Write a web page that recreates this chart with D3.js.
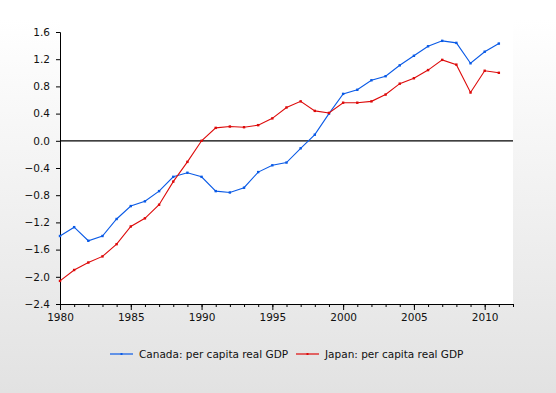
<!DOCTYPE html>
<html lang="en">
<head>
<meta charset="UTF-8"/>
<title>Canada vs Japan per capita real GDP</title>
<script src="https://d3js.org/d3.v7.min.js"></script>
<style>
  body { margin: 0; }
  svg { display: block; }
</style>
</head>
<body>
<script>
// data
var years = d3.range(1980, 2012);
var canada = [-1.40, -1.27, -1.47, -1.40, -1.15, -0.96, -0.89, -0.74, -0.53, -0.47,
              -0.53, -0.74, -0.76, -0.69, -0.46, -0.36, -0.32, -0.11, 0.09, 0.40,
              0.69, 0.75, 0.89, 0.95, 1.11, 1.25, 1.39, 1.47, 1.44, 1.14,
              1.31, 1.43];
var japan = [-2.06, -1.90, -1.79, -1.70, -1.52, -1.26, -1.14, -0.94, -0.60, -0.31,
             0.00, 0.19, 0.21, 0.20, 0.23, 0.33, 0.49, 0.58, 0.44, 0.41,
             0.56, 0.56, 0.58, 0.68, 0.84, 0.92, 1.04, 1.19, 1.12, 0.71,
             1.03, 1.00];
var yTicks = [1.6, 1.2, 0.8, 0.4, 0.0, -0.4, -0.8, -1.2, -1.6, -2.0, -2.4];
var xTicks = [1980, 1985, 1990, 1995, 2000, 2005, 2010];
var seriesNames = ["Canada: per capita real GDP", "Japan: per capita real GDP"];
var seriesColors = ["#0a5ae6", "#dd0a0a"];

var W = 556, H = 393;
var margin = {top: 32, right: 43, bottom: 89, left: 60};

var svg = d3.select("body").append("svg")
    .attr("width", W)
    .attr("height", H);

var defs = svg.append("defs");
var grad = defs.append("linearGradient").attr("id", "bg")
    .attr("x1", 0).attr("y1", 0).attr("x2", 0).attr("y2", 1);
grad.append("stop").attr("offset", "5%").attr("stop-color", "#ffffff");
grad.append("stop").attr("offset", "100%").attr("stop-color", "#e2e2e2");

svg.append("rect").attr("width", W).attr("height", H).attr("fill", "url(#bg)");

var x = d3.scaleLinear().domain([1980, 2012]).range([margin.left, W - margin.right]);
var y = d3.scaleLinear().domain([-2.4, 1.6]).range([H - margin.bottom, margin.top]);

// white plot area
svg.append("rect")
    .attr("x", x(1980)).attr("y", 0)
    .attr("width", x(2012) - x(1980)).attr("height", y(-2.4))
    .attr("fill", "#ffffff");

var font = "'DejaVu Sans', Verdana, sans-serif";

// y axis
var yAxis = svg.append("g")
    .attr("transform", "translate(" + margin.left + ",0)")
    .call(d3.axisLeft(y).tickValues(yTicks).tickFormat(d3.format(".1f")).tickSize(4).tickPadding(6));
yAxis.select(".domain").attr("stroke", "#000");
yAxis.selectAll("text").attr("font-family", font).attr("font-size", 10.5).attr("fill", "#111");

// x axis: minor ticks every year, major every 5
var xg = svg.append("g")
    .attr("transform", "translate(0," + y(-2.4) + ")");
xg.call(d3.axisBottom(x).tickValues(d3.range(1980, 2013)).tickFormat("").tickSize(3).tickSizeOuter(0));
var xMajor = svg.append("g")
    .attr("transform", "translate(0," + y(-2.4) + ")")
    .call(d3.axisBottom(x).tickValues(xTicks).tickFormat(d3.format("d")).tickSize(6).tickPadding(4));
xMajor.select(".domain").remove();
xMajor.selectAll("text").attr("font-family", font).attr("font-size", 10.5).attr("fill", "#111");

// zero line
svg.append("line")
    .attr("x1", x(1980)).attr("x2", x(2012))
    .attr("y1", y(0)).attr("y2", y(0))
    .attr("stroke", "#000").attr("stroke-width", 1.2);

var line = d3.line()
    .x(function (d, i) { return x(years[i]); })
    .y(function (d) { return y(d); });

[canada, japan].forEach(function (s, k) {
    svg.append("path")
        .datum(s)
        .attr("d", line)
        .attr("fill", "none")
        .attr("stroke", seriesColors[k])
        .attr("stroke-width", 1.1);
    svg.append("g").selectAll("rect")
        .data(s)
        .enter().append("rect")
        .attr("x", function (d, i) { return x(years[i]) - 1.2; })
        .attr("y", function (d) { return y(d) - 1.2; })
        .attr("width", 2.4).attr("height", 2.4)
        .attr("fill", seriesColors[k]);
});

// legend
var legX = [110, 296];
seriesNames.forEach(function (name, k) {
    var g = svg.append("g").attr("transform", "translate(" + legX[k] + ",354)");
    g.append("line").attr("x1", 0).attr("x2", 23).attr("y1", 0).attr("y2", 0)
        .attr("stroke", seriesColors[k]).attr("stroke-width", 1.2);
    g.append("rect").attr("x", 10.5).attr("y", -1).attr("width", 2).attr("height", 2)
        .attr("fill", seriesColors[k]);
    g.append("text").attr("x", 29).attr("y", 4)
        .attr("font-family", font).attr("font-size", 10.5).attr("fill", "#111")
        .text(name);
});
</script>
</body>
</html>
